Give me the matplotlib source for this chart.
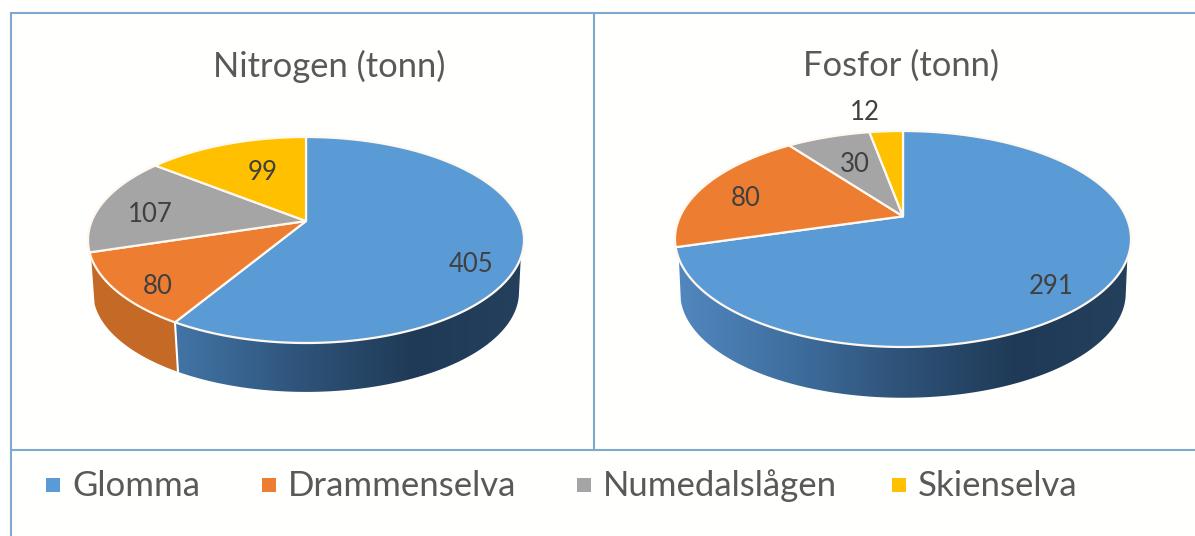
import numpy as np
import matplotlib.pyplot as plt
from matplotlib.colors import LinearSegmentedColormap
from matplotlib.patches import Polygon

# ---- chart values ----
rivers = ['Glomma', 'Drammenselva', 'Numedalslågen', 'Skienselva']
nitrogen = [405, 80, 107, 99]
fosfor = [291, 80, 30, 12]
titles = ['Nitrogen (tonn)', 'Fosfor (tonn)']

colors = ['#5b9bd5', '#ed7d31', '#a5a5a5', '#ffc000']
side_colors = [
    ['#5288c0', '#3f6f9f', '#2e5278', '#1f3a56', '#24405c'],
    ['#c46a26', '#c46a26', '#bc6421', '#b05c1c', '#a85618'],
    ['#8a8a8a', '#7a7a7a', '#6a6a6a', '#606060', '#606060'],
    ['#c99700', '#b88a00', '#a67c00', '#987000', '#987000'],
]
text_grey = '#595959'
label_grey = '#404040'
frame_blue = '#7fa8cf'

plt.rcParams['font.family'] = ['Lato', 'DejaVu Sans']

fig = plt.figure(figsize=(11.95, 5.36), dpi=100, facecolor='#fffffd')
ax = fig.add_axes([0, 0, 1, 1])


def project(theta, cx, cy, rx, ry, shift):
    # clockwise angle from 12 o'clock, circle tilted so the apex sits above the ellipse centre
    x = np.sin(theta)
    y = np.cos(theta)
    d = 1 + shift * y
    px = x * np.sqrt(1 - shift ** 2) / d
    py = (y + shift) / d
    return cx + rx * px, cy - ry * py


def draw_pie(values, cx, cy, rx, ry, shift, depth):
    edges = np.cumsum([0] + list(values)) / sum(values) * 2 * np.pi

    # side wall first, the lower rim is a bit narrower because of the perspective
    for i in range(len(values)):
        t = np.linspace(edges[i], edges[i + 1], 300)
        px, py = project(t, cx, cy, rx, ry, shift)
        bx = cx + (px - cx) * 0.977
        by = cy + (py - cy) * 0.97 + depth
        keep_top = py >= cy + 0.17 * ry
        keep_bot = py >= cy
        if keep_top.sum() < 2:
            continue
        wall = np.r_[np.c_[px[keep_top], py[keep_top]],
                     np.c_[bx[keep_bot][::-1], by[keep_bot][::-1]]]
        patch = Polygon(wall, closed=True, fc='none', ec='none')
        ax.add_patch(patch)
        cmap = LinearSegmentedColormap.from_list('side', side_colors[i])
        im = ax.imshow(np.linspace(0, 1, 256)[None, :], cmap=cmap, aspect='auto',
                       extent=[cx - rx, cx + rx, cy + ry + depth, cy - ry], zorder=2)
        im.set_clip_path(patch)
        # white seam where a wedge edge comes to the front
        if keep_top[0]:
            ax.plot([px[0], bx[0]], [py[0], by[0]], color='white', lw=1.5, zorder=3)

    # top surface
    apex_y = cy - ry * shift
    for i in range(len(values)):
        t = np.linspace(edges[i], edges[i + 1], 200)
        px, py = project(t, cx, cy, rx, ry, shift)
        top = np.r_[[[cx, apex_y]], np.c_[px, py]]
        ax.add_patch(Polygon(top, closed=True, fc=colors[i], ec='#fff8f0', lw=1.6,
                             joinstyle='round', zorder=4))


draw_pie(nitrogen, 306, 240, 218, 103, 0.184, 52)
draw_pie(fosfor, 903, 239, 228, 108, 0.21, 54)

# frame lines
ax.plot([11, 11], [13, 536], color=frame_blue, lw=1.5, zorder=5)
ax.plot([11, 1195], [13, 13], color=frame_blue, lw=1.5, zorder=5)
ax.plot([11, 1195], [450, 450], color=frame_blue, lw=1.5, zorder=5)
ax.plot([594, 594], [13, 450], color=frame_blue, lw=1.5, zorder=5)

# titles
ax.text(329, 66, titles[0], fontsize=24.8, color=text_grey, ha='center', va='center', zorder=6)
ax.text(901, 66, titles[1], fontsize=24.8, color=text_grey, ha='center', va='center', zorder=6)

# value labels
label_pos_n = [(471, 264), (158, 286), (150, 214), (263, 172)]
label_pos_f = [(1051, 286), (746, 199), (855, 164), (865, 112)]
for val, (x, y) in zip(nitrogen, label_pos_n):
    ax.text(x, y, str(val), fontsize=18.5, color=label_grey, ha='center', va='center', zorder=6)
for val, (x, y) in zip(fosfor, label_pos_f):
    ax.text(x, y, str(val), fontsize=18.5, color=label_grey, ha='center', va='center', zorder=6)

# legend
legend_x = [53, 269, 584, 899]
text_x = [72, 288, 603, 918]
for name, col, x, tx in zip(rivers, colors, legend_x, text_x):
    ax.scatter([x], [484.5], s=100, marker='s', color=col, linewidths=0, zorder=6)
    ax.text(tx, 486, name, fontsize=25, color=text_grey, ha='left', va='center', zorder=6)

ax.set_xlim(0, 1195)
ax.set_ylim(536, 0)
ax.axis('off')

plt.savefig('out.png', dpi=100, facecolor=fig.get_facecolor())
